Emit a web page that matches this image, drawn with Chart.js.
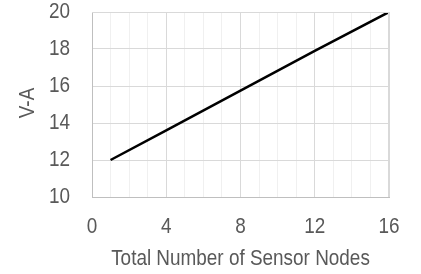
<!DOCTYPE html>
<html><head><meta charset="utf-8">
<script src="https://cdn.jsdelivr.net/npm/chart.js@4"></script>
<style>html,body{margin:0;padding:0;background:#fff;}#wrap{width:421px;height:274px;position:relative;}</style>
</head><body><div id="wrap"><canvas id="c" width="421" height="274"></canvas></div>
<script>
const nodes = [1, 4, 8, 12, 16];
const vaValues = [12, 13.6, 15.75, 17.9, 20];
const xTickLabels = [0, 4, 8, 12, 16];
const yTickLabels = [10, 12, 14, 16, 18, 20];
const xTitle = 'Total Number of Sensor Nodes';
const yTitle = 'V-A';

const FONT = "'Liberation Sans','Arial',sans-serif";
const TXT = '#595959';
const SX = 0.86;

function condensedText(ctx, text, x, y, align, rot) {
  ctx.save();
  ctx.translate(x, y);
  if (rot) ctx.rotate(rot);
  ctx.scale(SX, 1);
  ctx.textAlign = align;
  ctx.textBaseline = 'middle';
  ctx.fillText(text, 0, 0);
  ctx.restore();
}

new Chart(document.getElementById('c'), {
  type: 'line',
  data: { datasets: [{
    data: nodes.map((x, i) => ({x, y: vaValues[i]})),
    borderColor: '#000', borderWidth: 2.5, pointRadius: 0, tension: 0, fill: false
  }]},
  options: {
    responsive: false, animation: false, devicePixelRatio: 1,
    layout: { padding: { left: 0, right: 32, top: 12, bottom: 0 } },
    plugins: { legend: { display: false }, tooltip: { enabled: false } },
    scales: {
      x: {
        type: 'linear', min: 0, max: 16,
        afterBuildTicks: s => { s.ticks = []; for (let v = 0; v <= 16; v++) s.ticks.push({value: v}); },
        ticks: { display: false },
        grid: { color: ctx => (ctx.tick && xTickLabels.includes(ctx.tick.value)) ? '#d9d9d9' : '#f0f0f0', lineWidth: 1, drawTicks: false },
        border: { color: '#bfbfbf', width: 1 },
        afterFit: s => { s.height = 77; }
      },
      y: {
        min: 10, max: 20,
        afterBuildTicks: s => { s.ticks = yTickLabels.map(v => ({value: v})); },
        ticks: { display: false },
        grid: { color: '#d9d9d9', lineWidth: 1, drawTicks: false },
        border: { color: '#bfbfbf', width: 1 },
        afterFit: s => { s.width = 92; }
      }
    }
  },
  plugins: [{
    id: 'labels',
    afterDraw(chart) {
      const {ctx, chartArea: a} = chart;
      const xs = chart.scales.x, ys = chart.scales.y;
      ctx.save(); ctx.strokeStyle = '#d9d9d9'; ctx.lineWidth = 1;
      ctx.beginPath(); ctx.moveTo(a.left, a.top + 0.5); ctx.lineTo(a.right, a.top + 0.5);
      ctx.moveTo(a.right - 0.5, a.top); ctx.lineTo(a.right - 0.5, a.bottom); ctx.stroke();
      ctx.fillStyle = TXT;
      ctx.font = '22px ' + FONT;
      yTickLabels.forEach(v => condensedText(ctx, String(v), 70, ys.getPixelForValue(v), 'right'));
      xTickLabels.forEach(v => condensedText(ctx, String(v), xs.getPixelForValue(v), 227, 'center'));
      condensedText(ctx, xTitle, (a.left + a.right) / 2, 259, 'center');
      condensedText(ctx, yTitle, 28, 103, 'center', -Math.PI / 2);
      ctx.restore();
    }
  }]
});
</script></body></html>
